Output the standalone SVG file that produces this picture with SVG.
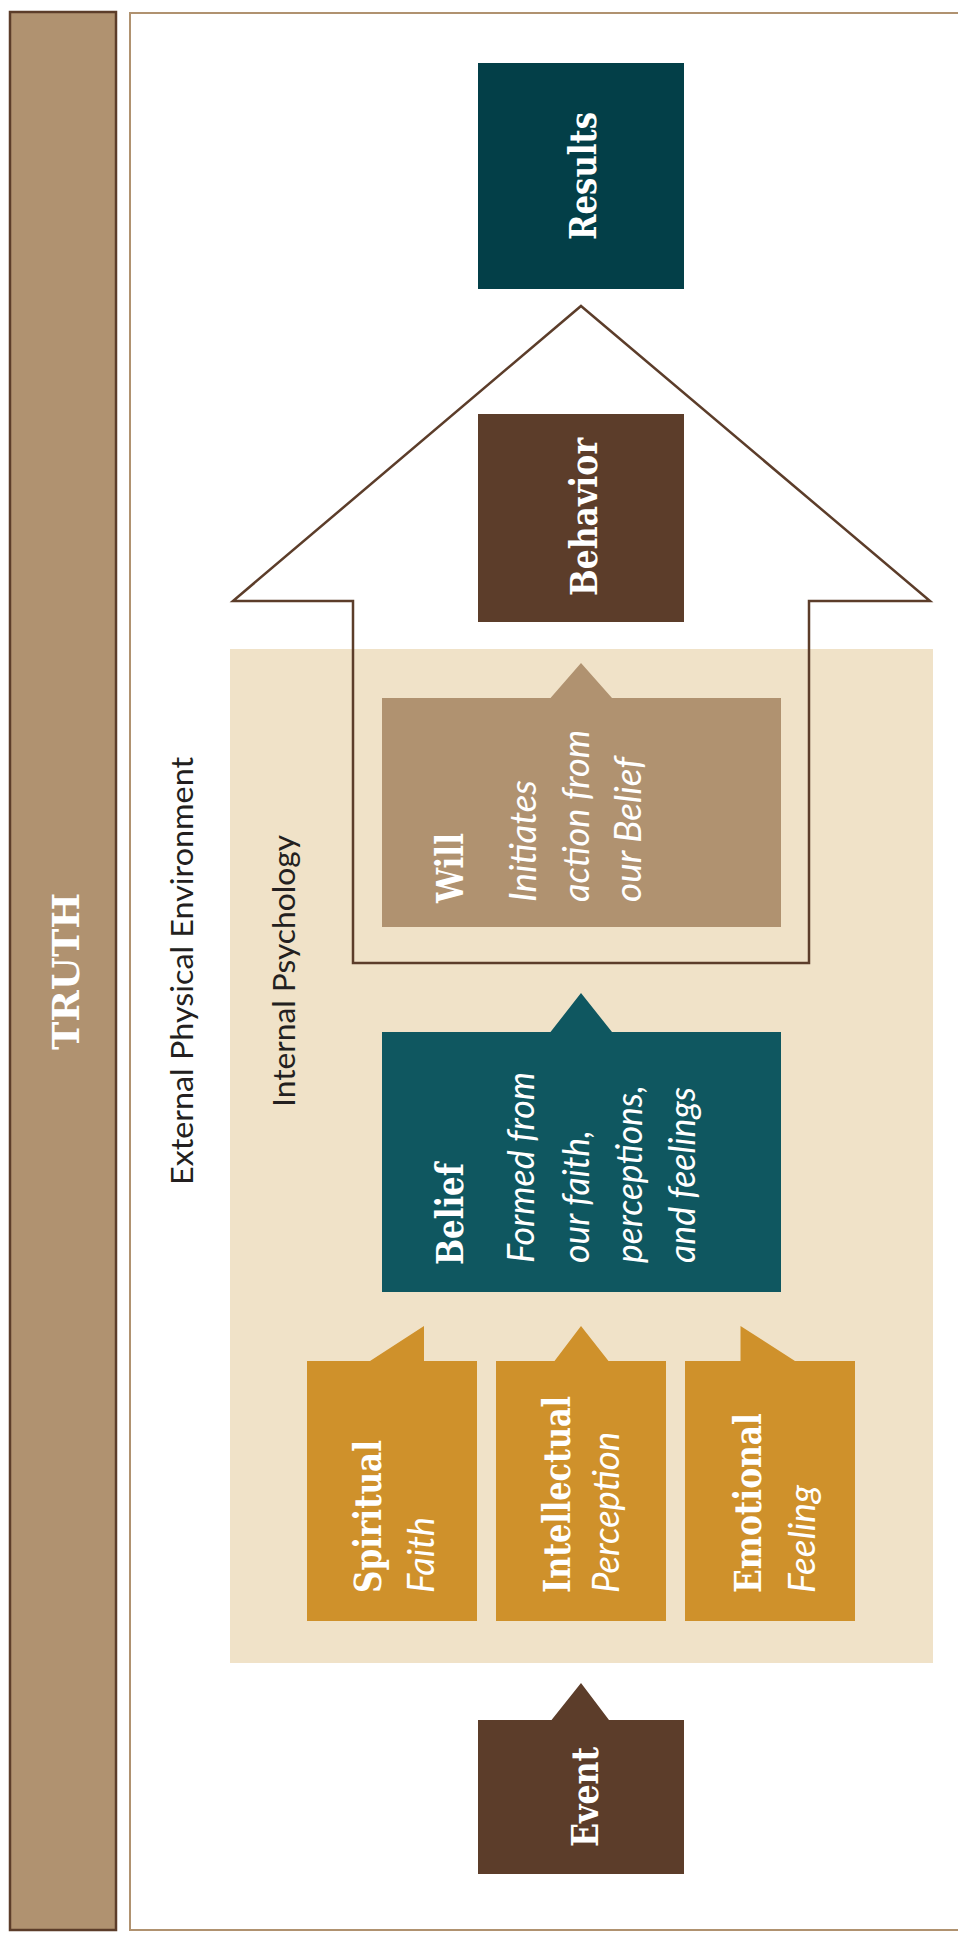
<svg xmlns="http://www.w3.org/2000/svg" width="958" height="1937" viewBox="0 0 958 1937">
<style>
.title{font-family:"DejaVu Serif Condensed","DejaVu Serif",serif;font-weight:bold;font-size:38px;fill:#ffffff}
.sub{font-family:Lato,"Noto Sans",sans-serif;font-style:italic;font-size:37px;fill:#ffffff}
.label{font-family:Lato,"Noto Sans",sans-serif;font-size:30px;fill:#231f20}
.brown{fill:#5c3d2a}
.tan{fill:#b09270}
.teal{fill:#0f5760}
.dark{fill:#033f48}
.gold{fill:#cf912b}
</style>
<rect width="958" height="1937" fill="#ffffff"/>
<g id="truth">
<rect x="10" y="12" width="106" height="1918" fill="#b09270" stroke="#5c3d2a" stroke-width="2.5"/>
<text class="title" font-size="45" text-anchor="middle" textLength="157" lengthAdjust="spacingAndGlyphs" transform="translate(79,971.5) rotate(-90)">TRUTH</text>
</g>
<g id="external">
<rect x="130" y="13" width="840" height="1917" fill="none" stroke="#b09270" stroke-width="2"/>
<text class="label" text-anchor="middle" textLength="428" lengthAdjust="spacingAndGlyphs" transform="translate(193,971) rotate(-90)">External Physical Environment</text>
</g>
<g id="internal">
<rect x="230" y="649" width="703" height="1014" fill="#f0e2c8"/>
<text class="label" text-anchor="middle" textLength="272" lengthAdjust="spacingAndGlyphs" transform="translate(295,971) rotate(-90)">Internal Psychology</text>
</g>
<g id="connectors">
<polygon points="581,306 930,601 809,601 809,963 353,963 353,601 233,601" fill="none" stroke="#5c3d2a" stroke-width="2.5"/>
</g>
<g id="results">
<rect class="dark" x="478" y="63" width="206" height="226"/>
<text class="title" text-anchor="middle" textLength="128" lengthAdjust="spacingAndGlyphs" transform="translate(596,176) rotate(-90)">Results</text>
</g>
<g id="behavior">
<rect class="brown" x="478" y="414" width="206" height="208"/>
<text class="title" text-anchor="middle" textLength="158" lengthAdjust="spacingAndGlyphs" transform="translate(597,517) rotate(-90)">Behavior</text>
</g>
<g id="will">
<path class="tan" d="M382,698 H550.5 L581,663 L612,698 H781 V927 H382 Z"/>
<text class="title" textLength="70" lengthAdjust="spacingAndGlyphs" transform="translate(463,903) rotate(-90)">Will</text>
<text class="sub" textLength="122" lengthAdjust="spacingAndGlyphs" transform="translate(536,902) rotate(-90)">Initiates</text>
<text class="sub" textLength="172" lengthAdjust="spacingAndGlyphs" transform="translate(589,902) rotate(-90)">action from</text>
<text class="sub" textLength="145" lengthAdjust="spacingAndGlyphs" transform="translate(641,902) rotate(-90)">our Belief</text>
</g>
<g id="belief">
<path class="teal" d="M382,1032 H550.5 L581,993 L612,1032 H781 V1292 H382 Z"/>
<text class="title" textLength="102" lengthAdjust="spacingAndGlyphs" transform="translate(463,1265) rotate(-90)">Belief</text>
<text class="sub" textLength="191" lengthAdjust="spacingAndGlyphs" transform="translate(534,1263) rotate(-90)">Formed from</text>
<text class="sub" textLength="133" lengthAdjust="spacingAndGlyphs" transform="translate(589,1263) rotate(-90)">our faith,</text>
<text class="sub" textLength="178" lengthAdjust="spacingAndGlyphs" transform="translate(642,1263) rotate(-90)">perceptions,</text>
<text class="sub" textLength="176" lengthAdjust="spacingAndGlyphs" transform="translate(695,1263) rotate(-90)">and feelings</text>
</g>
<g id="spiritual">
<path class="gold" d="M307,1361 H370 L424,1326 V1361 H477 V1621 H307 Z"/>
<text class="title" textLength="153" lengthAdjust="spacingAndGlyphs" transform="translate(381,1593) rotate(-90)">Spiritual</text>
<text class="sub" textLength="76" lengthAdjust="spacingAndGlyphs" transform="translate(434,1593) rotate(-90)">Faith</text>
</g>
<g id="intellectual">
<path class="gold" d="M496,1361 H554.5 L581,1326 L608.5,1361 H666 V1621 H496 Z"/>
<text class="title" textLength="197" lengthAdjust="spacingAndGlyphs" transform="translate(570,1593) rotate(-90)">Intellectual</text>
<text class="sub" textLength="161" lengthAdjust="spacingAndGlyphs" transform="translate(619,1593) rotate(-90)">Perception</text>
</g>
<g id="emotional">
<path class="gold" d="M685,1361 H740.5 V1326 L795,1361 H855 V1621 H685 Z"/>
<text class="title" textLength="180" lengthAdjust="spacingAndGlyphs" transform="translate(761,1593) rotate(-90)">Emotional</text>
<text class="sub" textLength="108" lengthAdjust="spacingAndGlyphs" transform="translate(815,1593) rotate(-90)">Feeling</text>
</g>
<g id="event">
<path class="brown" d="M478,1720 H551.5 L581,1683 L609,1720 H684 V1874 H478 Z"/>
<text class="title" text-anchor="middle" textLength="100" lengthAdjust="spacingAndGlyphs" transform="translate(598,1797) rotate(-90)">Event</text>
</g>
</svg>
